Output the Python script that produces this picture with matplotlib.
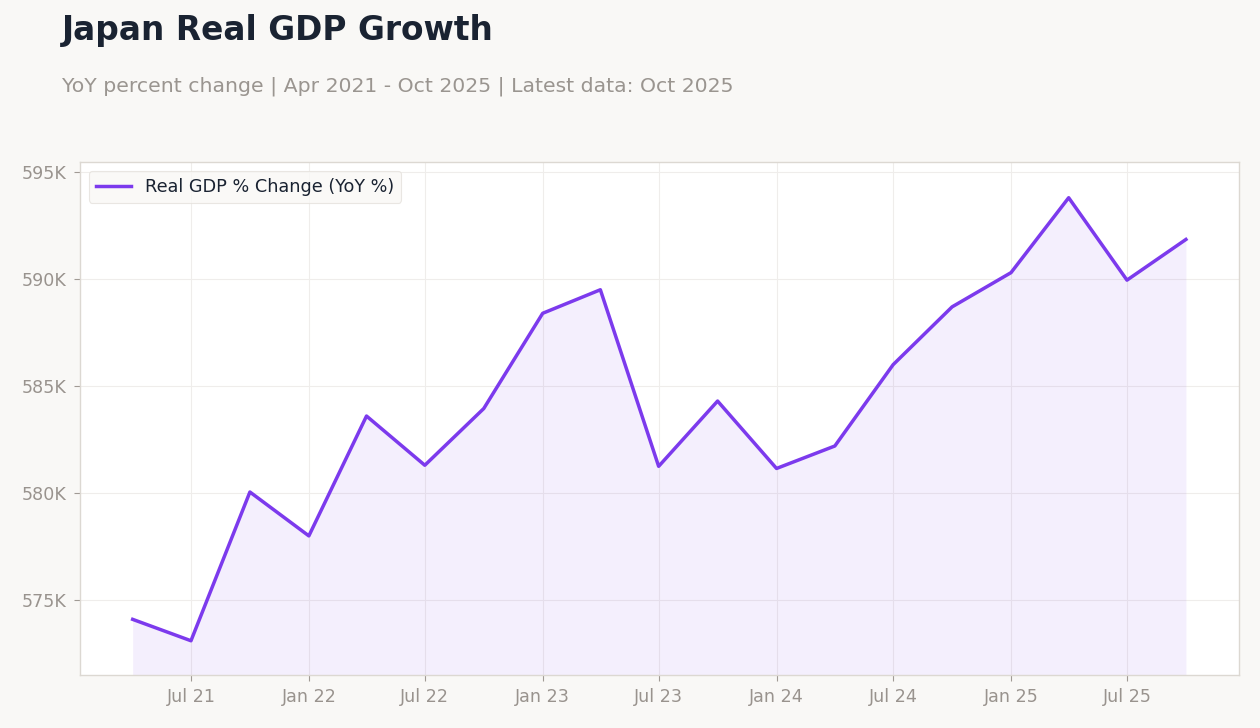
import matplotlib
matplotlib.use("Agg")
import matplotlib.pyplot as plt
import matplotlib.dates as mdates
from matplotlib.ticker import FuncFormatter
import pandas as pd

plt.rcParams['font.family'] = ['DejaVu Sans']

dates = pd.date_range("2021-04-01", "2025-10-01", freq="QS-JAN")
values = [574.1, 573.1, 580.05, 578.0, 583.6, 581.3, 583.95, 588.4, 589.5, 581.25,
          584.3, 581.15, 582.2, 586.0, 588.7, 590.3, 593.8, 589.95, 591.85]
series_label = "Real GDP % Change (YoY %)"

line_color = "#7c3aed"
bg = "#f9f8f6"

fig = plt.figure(figsize=(12.6, 7.28), dpi=100, facecolor=bg)
ax = fig.add_axes([0.0635, 0.0728, 0.9195, 0.7047])
ax.set_facecolor("white")

ax.plot(dates, values, color=line_color, linewidth=2.5, label=series_label, zorder=3)
ax.fill_between(dates, values, 571.5, color=line_color, alpha=0.08, linewidth=0, zorder=2)

ax.set_ylim(571.5, 595.47)
ax.set_yticks([575, 580, 585, 590, 595])
ax.yaxis.set_major_formatter(FuncFormatter(lambda v, p: f"{v:.0f}K"))
ax.xaxis.set_major_locator(mdates.MonthLocator(bymonth=[1, 7]))
ax.xaxis.set_major_formatter(mdates.DateFormatter("%b %y"))

ax.grid(True, color="#efedeb", linewidth=0.8, zorder=1)
ax.set_axisbelow(True)
for s in ax.spines.values():
    s.set_color("#dcd8d2")
    s.set_linewidth(1)
ax.tick_params(colors="#a09a94", labelcolor="#99938e", labelsize=12.6, length=4.5,
               width=0.8, pad=5)

leg = ax.legend(loc="upper left", fontsize=12.7, frameon=True, facecolor=bg,
                edgecolor="#e5e1dc", borderpad=0.4)
for t in leg.get_texts():
    t.set_color("#1a2332")
leg.get_frame().set_linewidth(0.8)

fig.text(0.049, 0.958, "Japan Real GDP Growth", fontsize=23.7, fontweight="bold",
         color="#1a2332", va="center", ha="left")
fig.text(0.049, 0.882, "YoY percent change | Apr 2021 - Oct 2025 | Latest data: Oct 2025",
         fontsize=14.7, color="#9a9590", va="center", ha="left")

fig.savefig("out.png", dpi=100, facecolor=bg)
